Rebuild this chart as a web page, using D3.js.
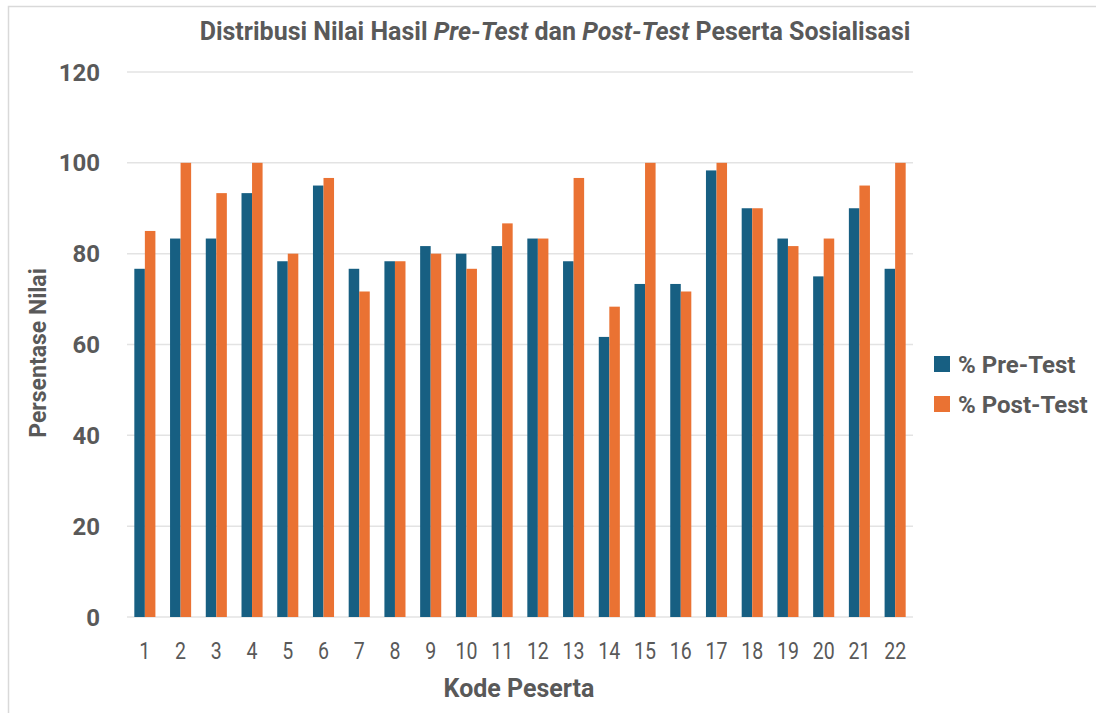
<!DOCTYPE html>
<html>
<head>
<meta charset="utf-8">
<script src="https://cdn.jsdelivr.net/npm/d3@7"></script>
<style>
  body { margin: 0; background: #fff; }
</style>
</head>
<body>
<script>
const width = 1096, height = 713;

const categories = ["1","2","3","4","5","6","7","8","9","10","11","12","13","14","15","16","17","18","19","20","21","22"];
const preTest  = [76.67, 83.33, 83.33, 93.33, 78.33, 95, 76.67, 78.33, 81.67, 80, 81.67, 83.33, 78.33, 61.67, 73.33, 73.33, 98.33, 90, 83.33, 75, 90, 76.67];
const postTest = [85, 100, 93.33, 100, 80, 96.67, 71.67, 78.33, 80, 76.67, 86.67, 83.33, 96.67, 68.33, 100, 71.67, 100, 90, 81.67, 83.33, 95, 100];
const seriesNames = ["% Pre-Test", "% Post-Test"];
const yTicks = [0, 20, 40, 60, 80, 100, 120];

const colors = ["#175f82", "#ea7233"];
const textColor = "#595959";
const bold = "Roboto, 'Liberation Sans', sans-serif";

const margin = {left: 127, right: 183, top: 72, bottom: 96};

const svg = d3.select("body").append("svg")
    .attr("width", width)
    .attr("height", height);

// frame
svg.append("rect")
    .attr("x", 8.5).attr("y", 6.5)
    .attr("width", width + 20).attr("height", height + 20)
    .attr("fill", "none")
    .attr("stroke", "#d9d9d9")
    .attr("stroke-width", 1.5);

const x = d3.scaleBand()
    .domain(categories)
    .range([margin.left, width - margin.right])
    .paddingInner(0.41)
    .paddingOuter(0.205);

const x1 = d3.scaleBand()
    .domain([0, 1])
    .range([0, x.bandwidth()]);

const y = d3.scaleLinear()
    .domain([0, 120])
    .range([height - margin.bottom, margin.top]);

// gridlines
svg.append("g")
  .selectAll("line")
  .data(yTicks)
  .join("line")
    .attr("x1", margin.left)
    .attr("x2", width - margin.right)
    .attr("y1", d => y(d))
    .attr("y2", d => y(d))
    .attr("stroke", "#e3e3e3")
    .attr("stroke-width", 1.5);

// bars
const groups = svg.append("g")
  .selectAll("g")
  .data(categories)
  .join("g")
    .attr("transform", d => `translate(${x(d)},0)`);

groups.selectAll("rect")
  .data((d, i) => [preTest[i], postTest[i]])
  .join("rect")
    .attr("x", (d, j) => x1(j))
    .attr("width", x1.bandwidth())
    .attr("y", d => y(d))
    .attr("height", d => y(0) - y(d))
    .attr("fill", (d, j) => colors[j]);

// y axis labels
svg.append("g")
  .selectAll("text")
  .data(yTicks)
  .join("text")
    .attr("x", 100)
    .attr("y", d => y(d))
    .attr("dy", "0.36em")
    .attr("text-anchor", "end")
    .attr("font-family", bold)
    .attr("font-weight", "bold")
    .attr("font-size", 24)
    .attr("fill", textColor)
    .text(d => d);

// x axis labels (condensed look)
svg.append("g")
  .selectAll("text")
  .data(categories)
  .join("text")
    .attr("transform", d => `translate(${x(d) + x.bandwidth() / 2},659) scale(0.85,1)`)
    .attr("text-anchor", "middle")
    .attr("font-family", bold)
    .attr("font-size", 23)
    .attr("fill", textColor)
    .text(d => d);

// axis titles
svg.append("text")
    .attr("x", 519)
    .attr("y", 697)
    .attr("text-anchor", "middle")
    .attr("font-family", bold)
    .attr("font-weight", "bold")
    .attr("font-size", 25)
    .attr("fill", textColor)
    .text("Kode Peserta");

svg.append("text")
    .attr("transform", "translate(46,353) rotate(-90)")
    .attr("text-anchor", "middle")
    .attr("font-family", bold)
    .attr("font-weight", "bold")
    .attr("font-size", 23)
    .attr("fill", textColor)
    .text("Persentase Nilai");

// title
const title = svg.append("text")
    .attr("x", 555)
    .attr("y", 40)
    .attr("text-anchor", "middle")
    .attr("font-family", bold)
    .attr("font-weight", "bold")
    .attr("font-size", 25)
    .attr("fill", textColor);
title.append("tspan").text("Distribusi Nilai Hasil ");
title.append("tspan").attr("font-style", "italic").text("Pre-Test");
title.append("tspan").text(" dan ");
title.append("tspan").attr("font-style", "italic").text("Post-Test");
title.append("tspan").text(" Peserta Sosialisasi");

// legend
const legend = svg.append("g")
  .selectAll("g")
  .data(seriesNames)
  .join("g")
    .attr("transform", (d, i) => `translate(934,${364 + i * 40})`);

legend.append("rect")
    .attr("x", 0).attr("y", -8)
    .attr("width", 16).attr("height", 16)
    .attr("fill", (d, i) => colors[i]);

legend.append("text")
    .attr("x", 24)
    .attr("dy", "0.36em")
    .attr("font-family", bold)
    .attr("font-weight", "bold")
    .attr("font-size", 24)
    .attr("fill", textColor)
    .text(d => d);
</script>
</body>
</html>
